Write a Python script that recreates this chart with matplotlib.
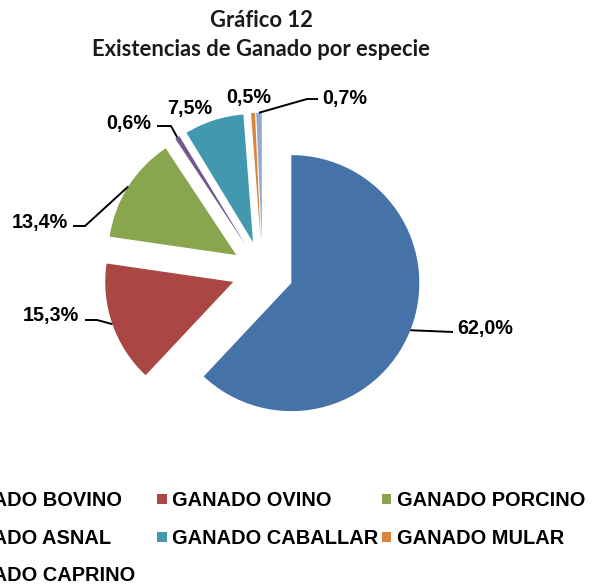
import matplotlib
matplotlib.use("Agg")
import matplotlib.pyplot as plt
from matplotlib.patches import Rectangle
import numpy as np

# ---- data ----
categories = ["GANADO BOVINO", "GANADO OVINO", "GANADO PORCINO", "GANADO ASNAL",
              "GANADO CABALLAR", "GANADO MULAR", "GANADO CAPRINO"]
values = [62.0, 15.3, 13.4, 0.6, 7.5, 0.5, 0.7]
labels = ["62,0%", "15,3%", "13,4%", "0,6%", "7,5%", "0,5%", "0,7%"]
colors = ["#4572A7", "#AA4643", "#89A54E", "#71588F", "#4198AF", "#DB843D", "#93A9CF"]
title_lines = ["Gráfico 12", "Existencias de Ganado por especie"]

W, H = 593, 586
fig = plt.figure(figsize=(W / 100, H / 100), dpi=100)
ax = fig.add_axes([0, 0, 1, 1])

def py(y):
    return H - y

cx, cy, R = 262.5, py(271.7), 128
wedges, _ = ax.pie(values, colors=colors, startangle=90, counterclock=False,
                   radius=R, center=(cx, cy), explode=[31] * len(values),
                   wedgeprops=dict(linewidth=0), frame=True)
ax.set_xlim(0, W)
ax.set_ylim(0, H)
ax.set_aspect("equal")
ax.axis("off")

# label layout (image pixel coords): text left x, text centre y, leader points
label_layout = [
    ((457, 327), [(453, 332)]),
    ((23, 314), [(97, 320), (85, 320)]),
    ((12, 221), [(85, 226), (73, 226)]),
    ((106, 122), [(171, 126), (157, 126)]),
    ((167, 107), None),
    ((226, 96), None),
    ((322, 97), [(307, 99), (318, 99)]),
]

for w, lab, (tpos, leader) in zip(wedges, labels, label_layout):
    tm = np.deg2rad((w.theta1 + w.theta2) / 2)
    ax_ = w.center[0] + w.r * np.cos(tm)
    ay_ = w.center[1] + w.r * np.sin(tm)
    if leader:
        xs = [ax_] + [p[0] for p in leader]
        ys = [ay_] + [py(p[1]) for p in leader]
        ax.plot(xs, ys, color="black", lw=1.4, solid_capstyle="butt")
    ax.text(tpos[0], py(tpos[1] + 7), lab, ha="left", va="baseline",
            fontsize=14.2, fontweight="bold", family="Liberation Sans", color="black")

# title
ax.text(261, py(20 + 7), title_lines[0], ha="center", va="baseline",
        fontsize=15.8, fontweight="bold", family="Lato", color="#1a1a1a")
ax.text(261, py(49 + 7), title_lines[1], ha="center", va="baseline",
        fontsize=15.8, fontweight="bold", family="Lato", color="#1a1a1a")

# legend (3 columns, manual Excel-like layout)
col_x0, col_dx = -67.1, 224.4
row_y0, row_dy = 499, 37.7
for i, (cat, col) in enumerate(zip(categories, colors)):
    r, c = divmod(i, 3)
    mx = col_x0 + c * col_dx
    my = row_y0 + r * row_dy
    ax.add_patch(Rectangle((mx, py(my + 5)), 9.5, 10, facecolor=col, edgecolor="none",
                           clip_on=False))
    ax.text(mx + 15, py(my + 7), cat, ha="left", va="baseline", fontsize=14.4,
            fontweight="bold", family="Liberation Sans", color="black", clip_on=False)

fig.savefig("out.png", dpi=100)
